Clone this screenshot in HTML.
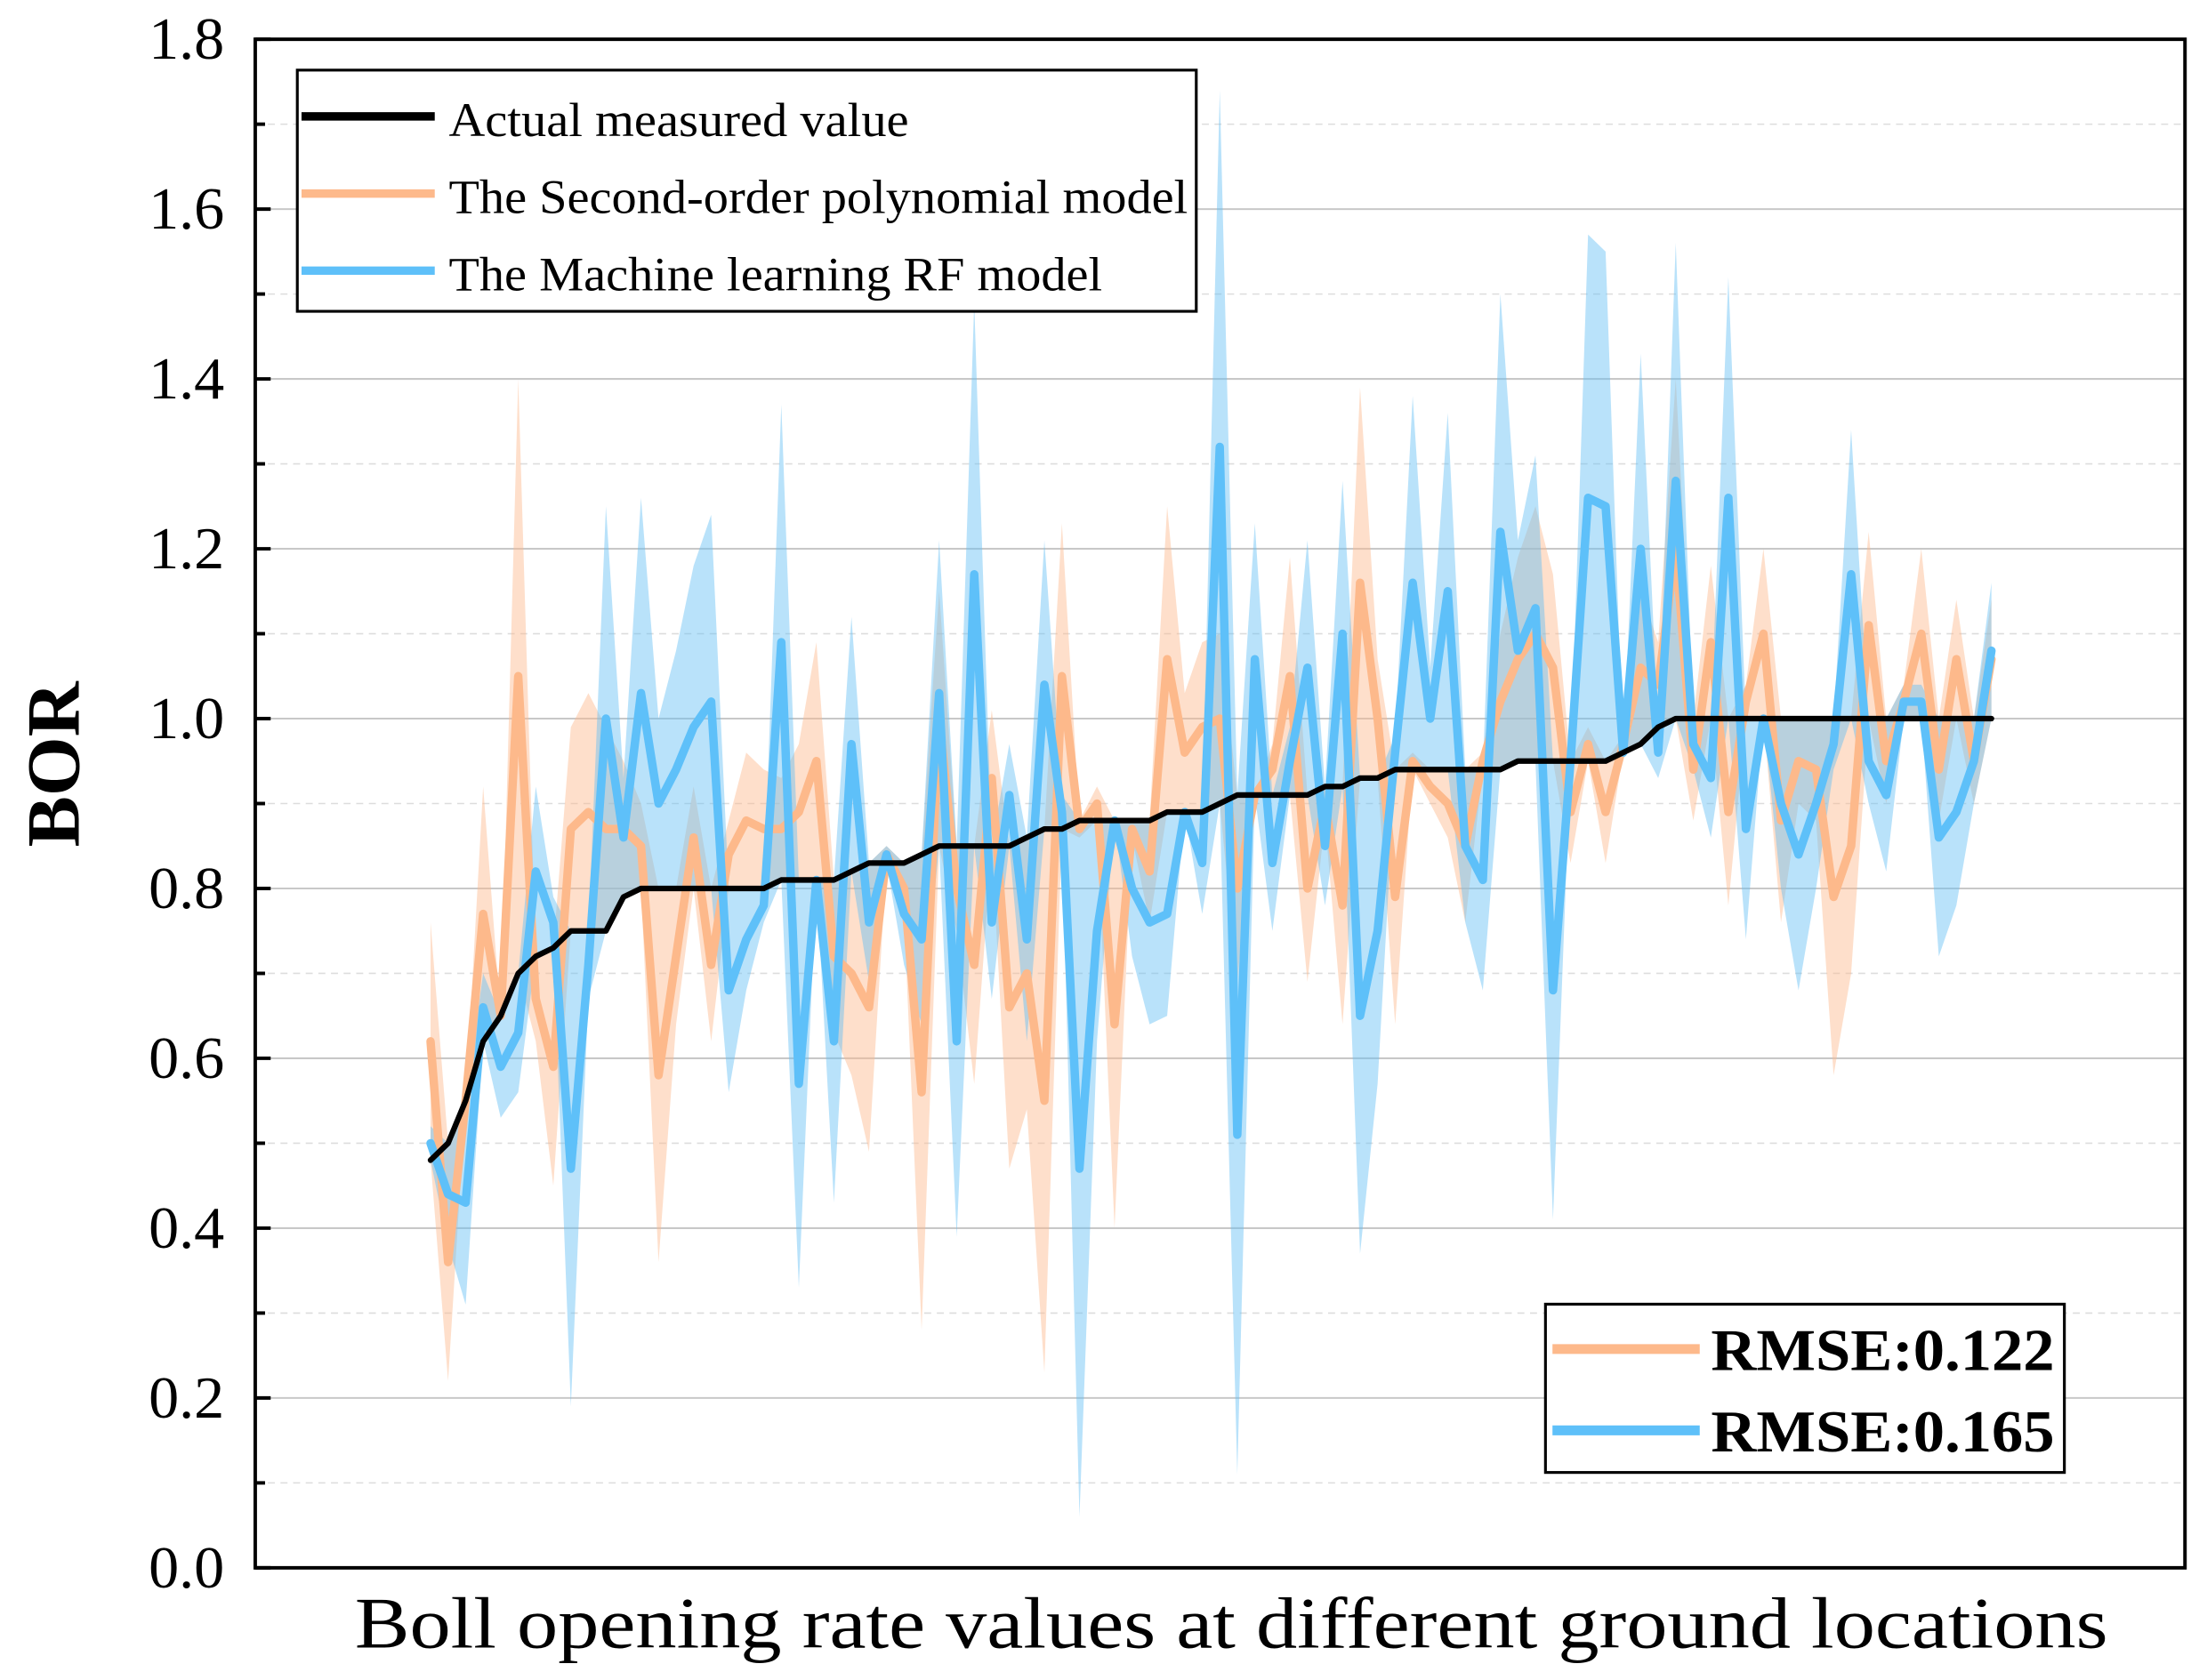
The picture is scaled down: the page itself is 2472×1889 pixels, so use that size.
<!DOCTYPE html>
<html><head><meta charset="utf-8"><style>
html,body{margin:0;padding:0;background:#fff;}
svg{display:block;}
text{font-family:"Liberation Serif",serif;}
</style></head><body>
<svg id="chart" width="2472" height="1889" viewBox="0 0 1568 1198" preserveAspectRatio="none" xmlns="http://www.w3.org/2000/svg">
<g id="grid"></g>
<g id="bands"></g>
<g id="lines"></g>
<rect x="182" y="28" width="1376" height="1090" fill="none" stroke="#000" stroke-width="2.5"/>
<g id="yaxis"></g>
<text x="0" y="0" transform="translate(56,545) rotate(-90)" text-anchor="middle" font-size="54" font-weight="bold" textLength="118" lengthAdjust="spacingAndGlyphs">BOR</text>
<text x="253" y="1175" font-size="52" textLength="1250" lengthAdjust="spacingAndGlyphs">Boll opening rate values at different ground locations</text>
<g>
<rect x="212" y="50" width="641" height="172" fill="#fff" stroke="#000" stroke-width="2"/>
<line x1="215" y1="83" x2="310" y2="83" stroke="#000" stroke-width="6"/>
<text x="320" y="97" font-size="34" textLength="328" lengthAdjust="spacingAndGlyphs">Actual measured value</text>
<line x1="215" y1="138" x2="310" y2="138" stroke="#fdb98b" stroke-width="6"/>
<text x="320" y="152" font-size="34" textLength="527" lengthAdjust="spacingAndGlyphs">The Second-order polynomial model</text>
<line x1="215" y1="193" x2="310" y2="193" stroke="#5ec0f9" stroke-width="6"/>
<text x="320" y="207" font-size="34" textLength="466" lengthAdjust="spacingAndGlyphs">The Machine learning RF model</text>
</g>
<g>
<rect x="1102" y="930" width="370" height="120" fill="#fff" stroke="#000" stroke-width="2"/>
<line x1="1107" y1="962" x2="1212" y2="962" stroke="#fdb98b" stroke-width="7"/>
<text x="1220" y="977" font-size="42" font-weight="bold" textLength="245" lengthAdjust="spacingAndGlyphs">RMSE:0.122</text>
<line x1="1107" y1="1020" x2="1212" y2="1020" stroke="#5ec0f9" stroke-width="7"/>
<text x="1220" y="1035" font-size="42" font-weight="bold" textLength="245" lengthAdjust="spacingAndGlyphs">RMSE:0.165</text>
</g>
</svg>
<script>
const actual=[.48,.50,.55,.62,.65,.70,.72,.73,.75,.75,.75,.79,.80,.80,.80,.80,.80,.80,.80,.80,.81,.81,.81,.81,.82,.83,.83,.83,.84,.85,.85,.85,.85,.85,.86,.87,.87,.88,.88,.88,.88,.88,.89,.89,.89,.90,.91,.91,.91,.91,.91,.92,.92,.93,.93,.94,.94,.94,.94,.94,.94,.94,.95,.95,.95,.95,.95,.95,.96,.97,.99,1,1,1,1,1,1,1,1,1,1,1,1,1,1,1,1,1,1,1];
const poly=[.62,.36,.55,.77,.65,1.05,.67,.59,.87,.89,.87,.87,.85,.58,.72,.86,.71,.84,.88,.87,.87,.89,.95,.72,.70,.66,.84,.80,.56,1.0,.80,.71,.93,.66,.70,.55,1.05,.87,.90,.64,.87,.82,1.07,.96,.99,1.0,.80,.91,.94,1.05,.80,.90,.78,1.16,1.0,.79,.95,.92,.90,.85,.95,1.02,1.07,1.10,1.06,.89,.97,.89,.97,1.06,1.04,1.20,.94,1.09,.89,1.02,1.10,.88,.95,.94,.79,.85,1.11,.95,1.02,1.10,.94,1.07,.95,1.07];
const rf=[.50,.44,.43,.66,.59,.63,.82,.76,.47,.71,1.0,.86,1.03,.90,.94,.99,1.02,.68,.74,.78,1.09,.57,.81,.62,.97,.76,.84,.77,.74,1.03,.62,1.17,.76,.91,.74,1.04,.89,.47,.75,.88,.80,.76,.77,.89,.83,1.32,.51,1.07,.83,.95,1.06,.85,1.10,.65,.75,.96,1.16,1.0,1.15,.85,.81,1.22,1.08,1.13,.68,.95,1.26,1.25,.96,1.20,.96,1.28,.97,.93,1.26,.87,1.0,.90,.84,.90,.97,1.17,.95,.91,1.02,1.02,.86,.89,.95,1.08];
const yTicks=["0.0","0.2","0.4","0.6","0.8","1.0","1.2","1.4","1.6","1.8"];
const NS="http://www.w3.org/2000/svg";
const X0=307,X1=1420,Y0=1118,Y1=28,YMAX=1.8;
function xs(i){return X0+(X1-X0)*i/(actual.length-1);}
function ys(v){return Y0-(Y0-Y1)*v/YMAX;}
function mk(t,p,a){const e=document.createElementNS(NS,t);for(const k in a)e.setAttribute(k,a[k]);p.appendChild(e);return e;}
const grid=document.getElementById('grid'),yax=document.getElementById('yaxis');
for(let k=1;k<18;k++){const v=k*0.1,y=ys(v);
 const g=mk('line',grid,{x1:182,x2:1558,y1:y,y2:y,stroke:k%2?'#ddd':'#c8c8c8','stroke-width':k%2?1:1.3,'stroke-dasharray':k%2?'5,4':'none'});
 
 }
for(let k=0;k<=18;k++){const y=ys(k*0.1);
 const t=mk('line',yax,{x1:182,x2:k%2?189:193,y1:y,y2:y,stroke:'#000','stroke-width':2.5});
 
 }
yTicks.forEach(function(s){const y=ys(parseFloat(s));
 const t=mk('text',yax,{x:160,y:y+14,'text-anchor':'end','font-size':42,textLength:54,lengthAdjust:'spacingAndGlyphs'});t.textContent=s;
 
 });
const bands=document.getElementById('bands'),lines=document.getElementById('lines');
function band(arr,fill,name){
 const top=[],bot=[];
 arr.forEach(function(v,i){const ext=v+(v-actual[i]);const hi=Math.max(ext,actual[i],v),lo=Math.min(ext,actual[i],v);top.push(xs(i)+','+ys(hi));bot.unshift(xs(i)+','+ys(lo));});
 const p=mk('polygon',bands,{points:top.concat(bot).join(' '),fill:fill});
 
 }
band(poly,'rgba(253,185,140,0.45)','poly-band');
band(rf,'rgba(100,190,245,0.45)','rf-band');
function line(arr,col,w,name){
 const p=mk('polyline',lines,{points:arr.map(function(v,i){return xs(i)+','+ys(v);}).join(' '),fill:'none',stroke:col,'stroke-width':w,'stroke-linejoin':'round','stroke-linecap':'round'});
 
 }
line(poly,'#fdb98b',6,'poly-line');
line(rf,'#5ec0f9',6,'rf-line');
line(actual,'#000',4,'actual-line');
</script>
</body></html>
